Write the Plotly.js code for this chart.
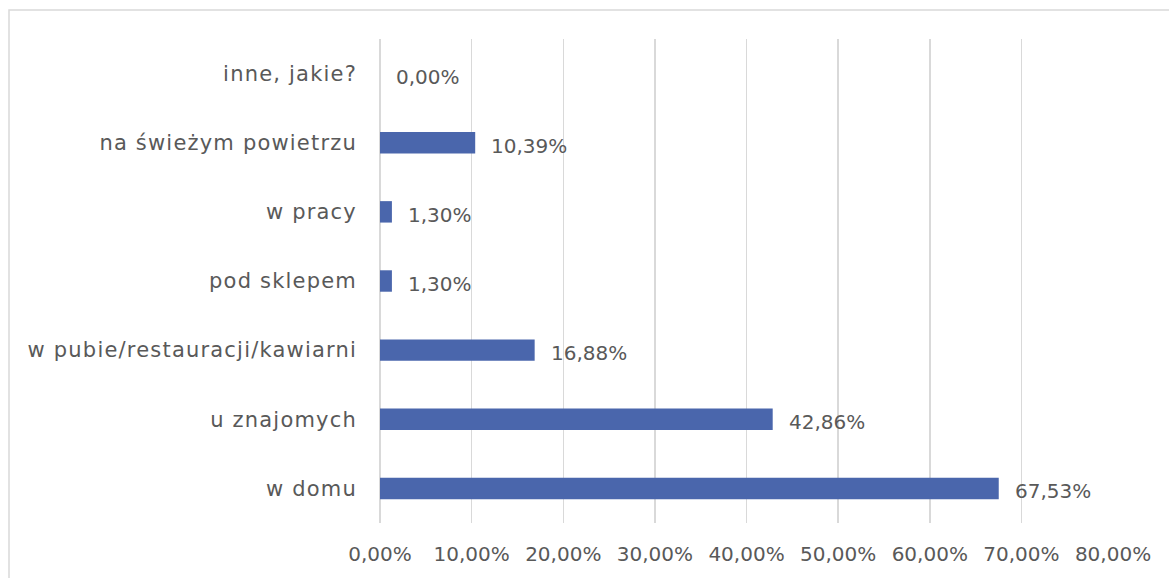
<!DOCTYPE html>
<html>
<head>
<meta charset="utf-8">
<script src="https://cdn.plot.ly/plotly-3.0.1.min.js"></script>
<style>
html,body{margin:0;padding:0;background:#fff;}
#chart{width:1169px;height:578px;}
#chart .ytick text{letter-spacing:1.2px;}
</style>
</head>
<body>
<div id="chart"></div>
<script>
const categories = ['w domu','u znajomych','w pubie/restauracji/kawiarni','pod sklepem','w pracy','na świeżym powietrzu','inne, jakie?'];
const values = [67.53, 42.86, 16.88, 1.30, 1.30, 10.39, 0.00];
const tickValues = [0,10,20,30,40,50,60,70,80];

const textColor = '#595959';
const fontFamily = 'DejaVu Sans, sans-serif';

const fmt = v => v.toFixed(2).replace('.', ',') + '%';
const tickLabels = tickValues.map(fmt);

const trace = {
  type: 'bar',
  orientation: 'h',
  x: values,
  y: categories,
  marker: {color: '#4A66AC'},
  hoverinfo: 'none'
};

const annotations = values.map((v, i) => ({
  x: v, y: categories[i], xref: 'x', yref: 'y',
  text: fmt(v), showarrow: false, xanchor: 'left', yanchor: 'middle',
  xshift: 14, yshift: -3,
  font: {family: fontFamily, size: 20, color: textColor}
}));

const plotLeft = 380, plotRight = 1113;
const pw = plotRight - plotLeft;

const layout = {
  width: 1169, height: 578,
  margin: {l: 380, r: 56, t: 39, b: 55, pad: 0},
  paper_bgcolor: '#fff', plot_bgcolor: '#fff',
  showlegend: false,
  bargap: 0.69,
  font: {family: fontFamily, size: 19, color: textColor},
  xaxis: {
    range: [0, 80], tickmode: 'array', tickvals: tickValues, ticktext: tickLabels,
    showgrid: true, gridcolor: '#d9d9d9', gridwidth: 1.5,
    zeroline: true, zerolinecolor: '#d9d9d9', zerolinewidth: 1.5,
    showline: false, ticks: '', ticklabelstandoff: 17,
    tickfont: {family: fontFamily, size: 20, color: textColor},
    fixedrange: true
  },
  yaxis: {
    type: 'category', categoryorder: 'array', categoryarray: categories,
    showgrid: false, zeroline: false, showline: false, ticks: '',
    ticklabelstandoff: 22,
    tickfont: {family: fontFamily, size: 21, color: textColor},
    fixedrange: true
  },
  annotations: annotations,
  shapes: [{
    type: 'rect', xref: 'paper', yref: 'paper',
    x0: (9 - plotLeft) / pw, x1: (1200 - plotLeft) / pw,
    y0: -0.3, y1: 1 + (39 - 10) / 484,
    line: {color: '#d9d9d9', width: 1.5}, fillcolor: 'rgba(0,0,0,0)', layer: 'below'
  }]
};

Plotly.newPlot('chart', [trace], layout, {displayModeBar: false, staticPlot: true});
</script>
</body>
</html>
